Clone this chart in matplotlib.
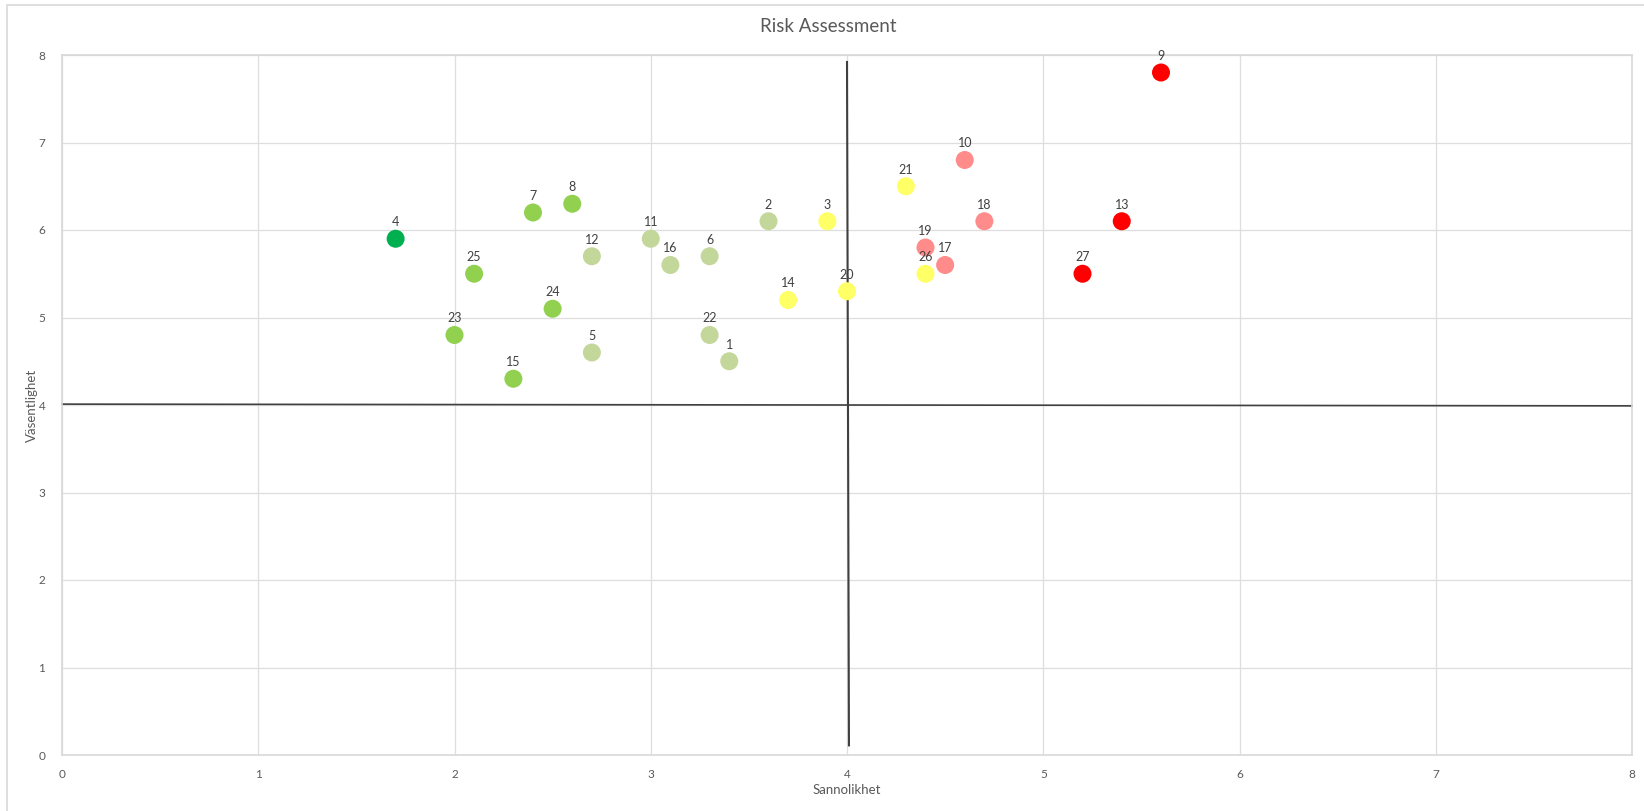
import matplotlib
matplotlib.use("Agg")
import matplotlib.pyplot as plt
from matplotlib.patches import Rectangle

plt.rcParams['font.family'] = ['Lato', 'DejaVu Sans']

ids = [1, 2, 3, 4, 5, 6, 7, 8, 9, 10, 11, 12, 13, 14, 15, 16, 17, 18, 19, 20,
       21, 22, 23, 24, 25, 26, 27]
sannolikhet = [3.4, 3.6, 3.9, 1.7, 2.7, 3.3, 2.4, 2.6, 5.6, 4.6, 3.0, 2.7, 5.4, 3.7,
               2.3, 3.1, 4.5, 4.7, 4.4, 4.0, 4.3, 3.3, 2.0, 2.5, 2.1, 4.4, 5.2]
vasentlighet = [4.5, 6.1, 6.1, 5.9, 4.6, 5.7, 6.2, 6.3, 7.8, 6.8, 5.9, 5.7, 6.1, 5.2,
                4.3, 5.6, 5.6, 6.1, 5.8, 5.3, 6.5, 4.8, 4.8, 5.1, 5.5, 5.5, 5.5]
categories = ['olive', 'olive', 'yellow', 'darkgreen', 'olive', 'olive', 'green', 'green',
              'red', 'pink', 'olive', 'olive', 'red', 'yellow', 'green', 'olive', 'pink',
              'pink', 'pink', 'yellow', 'yellow', 'olive', 'green', 'green', 'green',
              'yellow', 'red']
palette = {'darkgreen': '#00B050', 'green': '#92D050', 'olive': '#C4D79B',
           'yellow': '#FFFF66', 'pink': '#FF8B8B', 'red': '#FF0000'}

v_line_x = [4.0, 4.01]
v_line_y = [7.92, 0.11]
h_line_x = [0, 8]
h_line_y = [4.01, 3.99]

fig = plt.figure(figsize=(16.44, 8.11), dpi=100)
W, H = 1644, 811
ax = fig.add_axes([62 / W, 1 - 755 / H, (1632 - 62) / W, (755 - 55) / H])

# chart border
fig.patches.append(Rectangle((7 / W, -0.5), 1.5, 1 - 5 / H + 0.5, transform=fig.transFigure,
                             fill=False, edgecolor='#d9d9d9', linewidth=1.2))

ax.set_xlim(0, 8)
ax.set_ylim(0, 8)
ax.set_xticks(range(0, 9))
ax.set_yticks(range(0, 9))
ax.grid(True, color='#dedede', linewidth=0.9)
ax.set_axisbelow(True)
for s in ax.spines.values():
    s.set_color('#d9d9d9')
    s.set_linewidth(1.2)
ax.tick_params(length=0, labelsize=8.5, colors='#595959', pad=12)
ax.tick_params(axis='x', pad=10)

ax.plot(v_line_x, v_line_y, color='#404040', linewidth=1.5, zorder=2)
ax.plot(h_line_x, h_line_y, color='#404040', linewidth=1.2, zorder=2, clip_on=False)

colors = [palette[c] for c in categories]
ax.scatter(sannolikhet, vasentlighet, s=168, c=colors, edgecolors='none', zorder=3)
for i, x, y in zip(ids, sannolikhet, vasentlighet):
    ax.annotate(str(i), (x, y), xytext=(0, 12), textcoords='offset points',
                ha='center', va='center', fontsize=9, color='#404040', zorder=4)

fig.text(828 / W, 1 - 27 / H, 'Risk Assessment', ha='center', va='center',
         fontsize=13.5, color='#595959')
fig.text(847 / W, 1 - 790 / H, 'Sannolikhet', ha='center', va='center',
         fontsize=9.5, color='#595959')
fig.text(32 / W, 1 - 405 / H, 'Väsentlighet', ha='center', va='center',
         fontsize=9.5, color='#595959', rotation=90)

fig.savefig('out.png', dpi=100, facecolor='white')
